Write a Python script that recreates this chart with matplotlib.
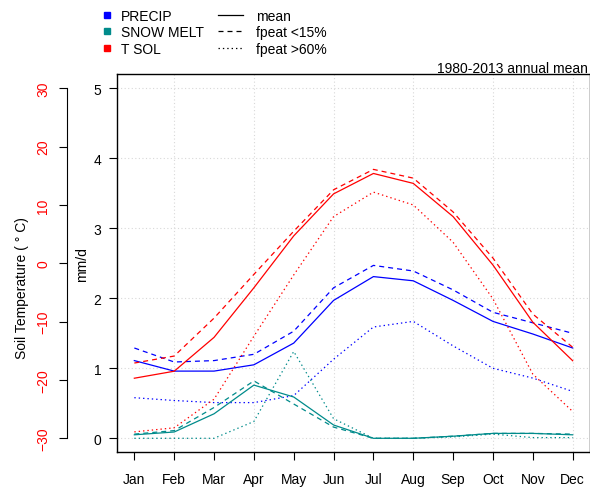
import matplotlib
matplotlib.use("Agg")
import matplotlib.pyplot as plt
from matplotlib.lines import Line2D
import numpy as np

plt.rcParams['font.family'] = ['Liberation Sans', 'DejaVu Sans']
plt.rcParams['font.size'] = 10

months = ['Jan', 'Feb', 'Mar', 'Apr', 'May', 'Jun',
          'Jul', 'Aug', 'Sep', 'Oct', 'Nov', 'Dec']

# precipitation (mm/d)
precip_mean = [1.11, 0.96, 0.96, 1.05, 1.36, 1.97, 2.31, 2.25, 1.97, 1.67, 1.49, 1.29]
precip_low = [1.29, 1.09, 1.11, 1.20, 1.53, 2.15, 2.47, 2.39, 2.12, 1.80, 1.65, 1.50]
precip_high = [0.58, 0.54, 0.51, 0.51, 0.61, 1.13, 1.59, 1.67, 1.32, 1.00, 0.86, 0.67]

# snow melt (mm/d)
snow_mean = [0.05, 0.09, 0.35, 0.76, 0.59, 0.19, 0.00, 0.00, 0.03, 0.07, 0.07, 0.05]
snow_low = [0.06, 0.11, 0.44, 0.82, 0.49, 0.16, 0.00, 0.00, 0.03, 0.07, 0.07, 0.06]
snow_high = [0.00, 0.00, 0.00, 0.24, 1.24, 0.28, 0.00, 0.00, 0.02, 0.06, 0.01, 0.01]

# soil temperature (deg C)
tsol_mean = [-19.7, -18.5, -12.7, -4.2, 4.7, 11.9, 15.4, 13.7, 8.0, -0.3, -10.1, -16.7]
tsol_low = [-17.1, -15.9, -9.4, -1.9, 5.5, 12.6, 16.1, 14.6, 8.8, 0.9, -8.7, -14.4]
tsol_high = [-28.9, -28.2, -23.3, -12.5, -2.0, 8.0, 12.2, 10.0, 3.6, -6.1, -19.0, -25.4]

mm_ticks = [0, 1, 2, 3, 4, 5]
temp_ticks = [-30, -20, -10, 0, 10, 20, 30]

C_PRECIP = '#0000FF'
C_SNOW = '#008B8B'
C_TSOL = '#FF0000'

LW = 0.9
STYLES = {
    'mean': '-',
    'low': (0, (4.0, 3.2)),
    'high': (0, (1.1, 2.4)),
}

W, H = 590, 489
fig = plt.figure(figsize=(W / 100, H / 100), dpi=100)


def fx(px):
    return px / W


def fy(py):
    return 1 - py / H


# plot region in pixels
L, R, T, B = 116.8, 590.2, 75.3, 453.3
ax = fig.add_axes([fx(L), fy(B), (R - L) / W, (B - T) / H])
x = np.arange(1, 13)
ax.set_xlim(0.56, 12.44)
ax.set_ylim(-0.2, 5.2)

grid_kw = dict(color='#D8D8D8', lw=0.8, ls=(0, (1, 2.2)), zorder=0)
for v in mm_ticks:
    ax.axhline(v, **grid_kw)
for m in range(2, 13, 2):
    ax.axvline(m, **grid_kw)

ax.plot(x, precip_mean, color=C_PRECIP, lw=LW, ls=STYLES['mean'])
ax.plot(x, precip_low, color=C_PRECIP, lw=LW, ls=STYLES['low'])
ax.plot(x, precip_high, color=C_PRECIP, lw=LW, ls=STYLES['high'])
ax.plot(x, snow_mean, color=C_SNOW, lw=LW, ls=STYLES['mean'])
ax.plot(x, snow_low, color=C_SNOW, lw=LW, ls=STYLES['low'])
ax.plot(x, snow_high, color=C_SNOW, lw=LW, ls=STYLES['high'])

ax.set_xticks(x)
ax.set_xticklabels(months)
ax.set_yticks(mm_ticks)
ax.tick_params(axis='x', length=6, width=0.8, pad=8.5)
ax.tick_params(axis='y', length=6, width=0.8, pad=5)
for s in ax.spines.values():
    s.set_linewidth(1.0)

# soil temperature on its own scale, axis drawn further left
axT = ax.twinx()
axT.set_ylim(12 * -0.2 - 30, 12 * 5.2 - 30)
axT.plot(x, tsol_mean, color=C_TSOL, lw=LW, ls=STYLES['mean'])
axT.plot(x, tsol_low, color=C_TSOL, lw=LW, ls=STYLES['low'])
axT.plot(x, tsol_high, color=C_TSOL, lw=LW, ls=STYLES['high'])
axT.yaxis.tick_left()
for s in ['right', 'top', 'bottom']:
    axT.spines[s].set_visible(False)
axT.spines['left'].set_visible(True)
axT.spines['left'].set_position(('axes', (66.7 - L) / (R - L)))
axT.spines['left'].set_bounds(-30, 30)
axT.spines['left'].set_linewidth(0.8)
axT.set_yticks(temp_ticks)
axT.tick_params(axis='y', length=6, width=0.8, pad=6, labelcolor=C_TSOL,
                labelrotation=90)
for lab in axT.get_yticklabels():
    lab.set_va('center')

fig.text(fx(82), fy(265), 'mm/d', rotation=90, ha='center', va='center')
fig.text(fx(21.7), fy(288), 'Soil Temperature ( \u00b0 C)', rotation=90,
         ha='center', va='center')
fig.text(fx(588), fy(73.3), '1980-2013 annual mean', ha='right', va='baseline')

# legend above the plot
leg_rows = [15.5, 32.3, 49.3]
leg_base = [20.7, 37.3, 54.3]
var_names = ['PRECIP', 'SNOW MELT', 'T SOL']
var_cols = [C_PRECIP, C_SNOW, C_TSOL]
sty_names = ['mean', 'fpeat <15%', 'fpeat >60%']
sty_keys = ['mean', 'low', 'high']
for ry, by, name, col, sname, skey in zip(leg_rows, leg_base, var_names,
                                          var_cols, sty_names, sty_keys):
    fig.add_artist(Line2D([fx(107)], [fy(ry)], marker='s', markersize=4.7,
                          color=col, ls='none', transform=fig.transFigure))
    fig.text(fx(120.7), fy(by), name, ha='left', va='baseline')
    fig.add_artist(Line2D([fx(218), fx(243)], [fy(ry), fy(ry)], color='black',
                          lw=LW, ls=STYLES[skey], transform=fig.transFigure))
    fig.text(fx(256), fy(by), sname, ha='left', va='baseline')

fig.savefig('out.png', dpi=100)
